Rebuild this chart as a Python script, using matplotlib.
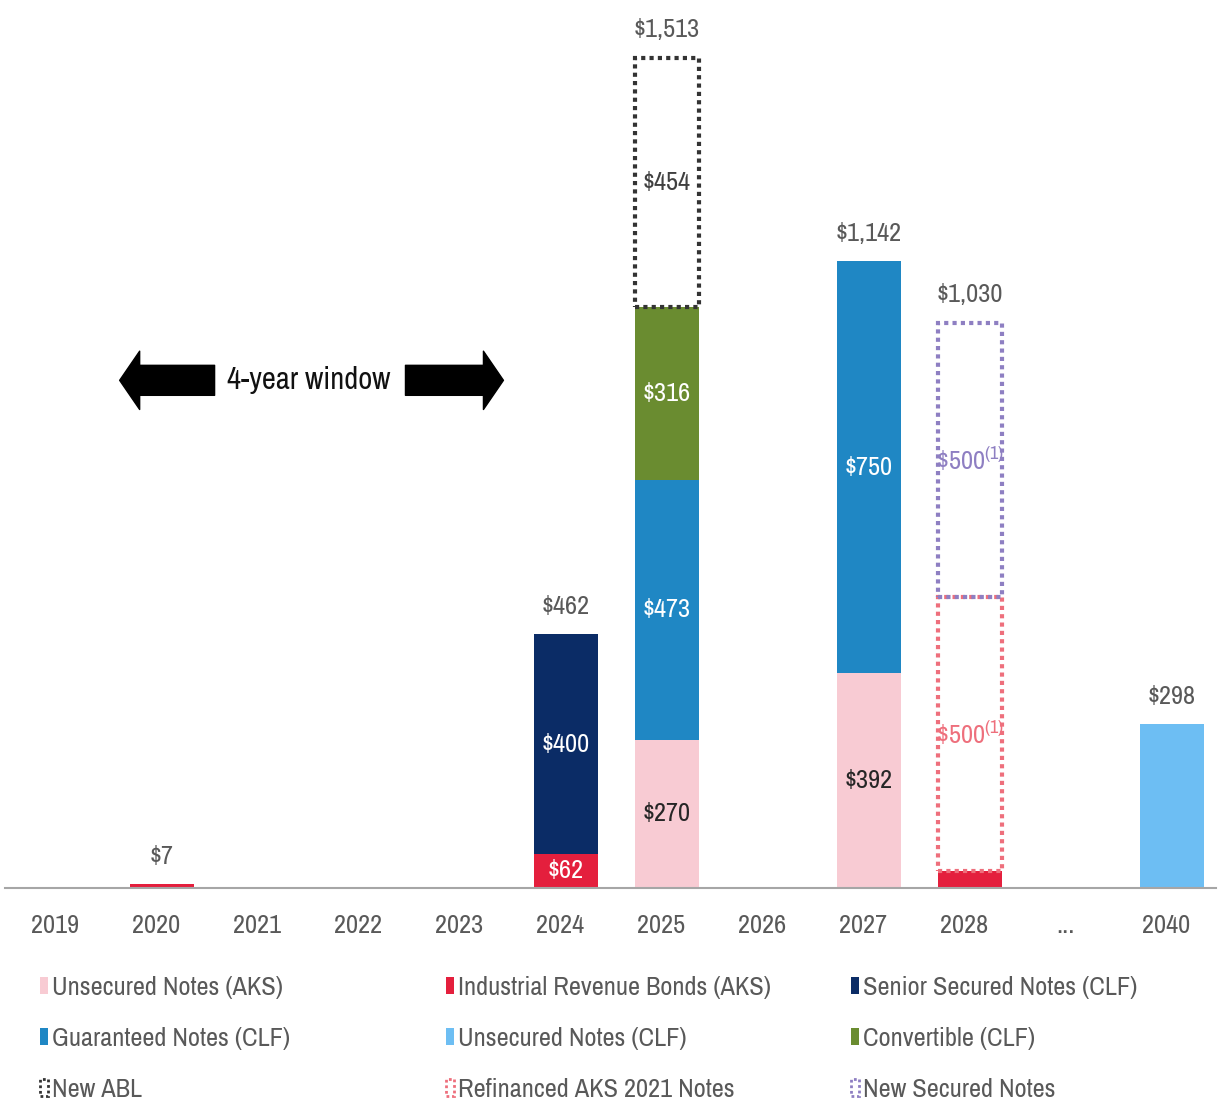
import matplotlib
matplotlib.use("Agg")
import matplotlib.pyplot as plt
from matplotlib.patches import Patch
import numpy as np

# debt maturity profile ($ millions)
categories = ['2019', '2020', '2021', '2022', '2023', '2024', '2025', '2026', '2027', '2028', '...', '2040']
unsecured_aks = [0, 0, 0, 0, 0, 0, 270, 0, 392, 0, 0, 0]
irb_aks = [0, 7, 0, 0, 0, 62, 0, 0, 0, 30, 0, 0]
senior_secured_clf = [0, 0, 0, 0, 0, 400, 0, 0, 0, 0, 0, 0]
guaranteed_clf = [0, 0, 0, 0, 0, 0, 473, 0, 750, 0, 0, 0]
unsecured_clf = [0, 0, 0, 0, 0, 0, 0, 0, 0, 0, 0, 298]
convertible_clf = [0, 0, 0, 0, 0, 0, 316, 0, 0, 0, 0, 0]
new_abl = [0, 0, 0, 0, 0, 0, 454, 0, 0, 0, 0, 0]
refinanced_aks = [0, 0, 0, 0, 0, 0, 0, 0, 0, 500, 0, 0]
new_secured = [0, 0, 0, 0, 0, 0, 0, 0, 0, 500, 0, 0]

NARROW = 'Archivo Narrow'
plt.rcParams['font.family'] = [NARROW, 'Liberation Sans', 'DejaVu Sans']
plt.rcParams['mathtext.fontset'] = 'custom'
plt.rcParams['mathtext.rm'] = NARROW
plt.rcParams['mathtext.it'] = NARROW
GREY = '#595959'
FS = 19

# (name, values, color, dotted, label colour)
series = [
    ("Unsecured Notes (AKS)", unsecured_aks, '#F8CBD3', False, '#262626'),
    ("Industrial Revenue Bonds (AKS)", irb_aks, '#E41F3D', False, 'white'),
    ("Senior Secured Notes (CLF)", senior_secured_clf, '#0B2C66', False, 'white'),
    ("Guaranteed Notes (CLF)", guaranteed_clf, '#1F87C4', False, 'white'),
    ("Unsecured Notes (CLF)", unsecured_clf, '#6DBEF3', False, 'white'),
    ("Convertible (CLF)", convertible_clf, '#6A8C30', False, 'white'),
    ("New ABL", new_abl, '#333333', True, '#404040'),
    ("Refinanced AKS 2021 Notes", refinanced_aks, '#EE6F7C', True, '#EE6F7C'),
    ("New Secured Notes", new_secured, '#8E7FC2', True, '#8E7FC2'),
]

fig = plt.figure(figsize=(12.21, 11.03), dpi=100)
ax = fig.add_axes([0.0037, 0.195, 0.9926, 0.796])

x = np.arange(len(categories))
xb = x + 0.06  # bars sit slightly right of the tick labels
width = 0.64
bottom = np.zeros(len(categories))
nseg = np.zeros(len(categories))
for _, vals, *_ in series:
    nseg += np.array(vals) > 0

for name, vals, color, dotted, lc in series:
    vals = np.array(vals, dtype=float)
    m = vals > 0
    if dotted:
        ax.bar(xb[m], vals[m], width, bottom=bottom[m], facecolor='none', edgecolor=color,
               linewidth=3, linestyle=(0, (1, 1)), zorder=3)
    else:
        ax.bar(xb[m], vals[m], width, bottom=bottom[m], color=color, linewidth=0, zorder=2)
    for i, v in enumerate(vals):
        if v >= 50 and nseg[i] > 1:
            txt = f'\\${v:,.0f}'
            if name in ("Refinanced AKS 2021 Notes", "New Secured Notes"):
                txt = txt + r'$^{(1)}$'
            ax.text(xb[i], bottom[i] + v / 2, txt, ha='center', va='center',
                    fontsize=FS, color=lc, zorder=4)
    bottom += vals

for i, tot in enumerate(bottom):
    if tot > 0:
        ax.text(xb[i], tot + 30, f'${tot:,.0f}', ha='center', va='bottom',
                fontsize=FS, color=GREY)

ax.set_xlim(-0.5, len(categories) - 0.5)
ax.set_ylim(0, 1600)
ax.set_xticks(x)
ax.set_xticklabels(categories, fontsize=FS, color=GREY)
ax.tick_params(axis='x', length=0, pad=19)
ax.set_yticks([])
for s in ['top', 'left', 'right']:
    ax.spines[s].set_visible(False)
ax.spines['bottom'].set_color('#A6A6A6')
ax.spines['bottom'].set_linewidth(1.5)

# 4-year window arrows
arrow_style = 'simple,head_length=1.44,head_width=4.2,tail_width=2.16'
ax.annotate('', xy=(0.64, 925), xytext=(1.58, 925),
            arrowprops=dict(arrowstyle=arrow_style, mutation_scale=10, color='black',
                            shrinkA=0, shrinkB=0))
ax.annotate('', xy=(4.44, 925), xytext=(3.47, 925),
            arrowprops=dict(arrowstyle=arrow_style, mutation_scale=10, color='black',
                            shrinkA=0, shrinkB=0))
ax.text(2.51, 925, '4-year window', ha='center', va='center', fontsize=22, color='#111111')

# legend, three columns laid out by rows
cols = [[0, 3, 6], [1, 4, 7], [2, 5, 8]]
col_x = [0.0325, 0.365, 0.697]
for cx, idx in zip(col_x, cols):
    handles = []
    for k in idx:
        name, _, color, dotted, _ = series[k]
        if dotted:
            handles.append(Patch(facecolor='none', edgecolor=color, linestyle=(0, (1, 1)),
                                 linewidth=2, label=name))
        else:
            handles.append(Patch(facecolor=color, edgecolor='none', label=name))
    leg = fig.legend(handles=handles, loc='upper left', bbox_to_anchor=(cx, 0.115),
                     frameon=False, fontsize=FS, handlelength=0.3, handleheight=0.6,
                     handletextpad=0.15, labelspacing=1.06, borderaxespad=0,
                     borderpad=0)
    for t in leg.get_texts():
        t.set_color(GREY)

fig.savefig('out.png', dpi=100)
